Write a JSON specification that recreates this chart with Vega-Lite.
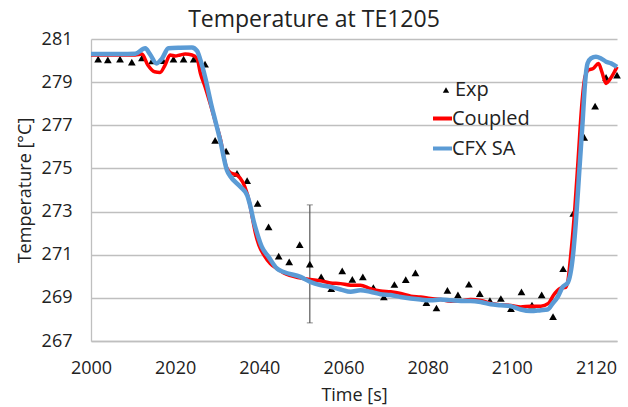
{
  "$schema": "https://vega.github.io/schema/vega-lite/v6.json",
  "width": 526,
  "height": 302,
  "autosize": {"type": "none"},
  "padding": {"left": 91, "top": 39, "right": 11, "bottom": 66},
  "background": "white",
  "title": {"text": "Temperature at TE1205", "anchor": "middle", "frame": "group", "dx": -40, "dy": 24, "baseline": "alphabetic", "offset": 4, "fontSize": 23, "font": "Open Sans", "fontWeight": "normal", "color": "#222222"},
  "config": {
    "view": {"stroke": null},
    "axis": {"labelFont": "Open Sans", "labelFontSize": 18, "labelColor": "#222222", "titleFont": "Open Sans", "titleFontSize": 18, "titleFontWeight": "normal", "titleColor": "#222222", "ticks": false, "domainColor": "#bfbfbf", "domainWidth": 1.3, "gridColor": "#bfbfbf", "gridWidth": 1.3, "labelFlush": false, "labelOverlap": false, "labelBound": false},
    "legend": {"title": null, "orient": "none", "padding": 0, "rowPadding": 8, "labelFontSize": 20, "labelFont": "Open Sans", "labelColor": "#222222", "labelLimit": 300}
  },
  "datasets": {
    "exp": [
      {"t": 2001.7, "T": 280.07}, {"t": 2004.0, "T": 280.03}, {"t": 2006.9, "T": 280.07}, {"t": 2009.7, "T": 279.93},
      {"t": 2012.1, "T": 280.12}, {"t": 2014.5, "T": 279.98}, {"t": 2017.1, "T": 280.0}, {"t": 2019.6, "T": 280.07},
      {"t": 2022.0, "T": 280.07}, {"t": 2024.4, "T": 280.07}, {"t": 2027.1, "T": 279.84}, {"t": 2029.5, "T": 276.3},
      {"t": 2032.1, "T": 275.8}, {"t": 2034.7, "T": 274.77}, {"t": 2037.1, "T": 274.43}, {"t": 2039.6, "T": 273.38},
      {"t": 2042.2, "T": 272.29}, {"t": 2044.6, "T": 270.93}, {"t": 2047.1, "T": 270.67}, {"t": 2049.6, "T": 271.47},
      {"t": 2052.0, "T": 270.56}, {"t": 2054.7, "T": 269.97}, {"t": 2057.1, "T": 269.43}, {"t": 2059.7, "T": 270.25},
      {"t": 2062.1, "T": 269.86}, {"t": 2064.6, "T": 269.97}, {"t": 2067.1, "T": 269.48}, {"t": 2069.6, "T": 269.04},
      {"t": 2072.1, "T": 269.62}, {"t": 2074.8, "T": 269.85}, {"t": 2077.1, "T": 270.16}, {"t": 2079.7, "T": 268.78},
      {"t": 2082.1, "T": 268.53}, {"t": 2084.7, "T": 269.35}, {"t": 2087.2, "T": 269.14}, {"t": 2089.8, "T": 269.63},
      {"t": 2092.4, "T": 269.2}, {"t": 2094.8, "T": 268.87}, {"t": 2097.4, "T": 268.97}, {"t": 2099.8, "T": 268.5},
      {"t": 2102.3, "T": 269.28}, {"t": 2104.8, "T": 268.66}, {"t": 2107.1, "T": 269.14}, {"t": 2109.8, "T": 268.13},
      {"t": 2112.2, "T": 270.35}, {"t": 2114.6, "T": 272.91}, {"t": 2117.2, "T": 276.44}, {"t": 2119.8, "T": 277.89},
      {"t": 2122.4, "T": 279.22}, {"t": 2125.0, "T": 279.33}
    ],
    "err": [{"t": 2052.0, "lo": 267.84, "hi": 273.31}],
    "coupled": [
      {"t": 2000.0, "T": 280.26}, {"t": 2010.5, "T": 280.26}, {"t": 2012.1, "T": 280.3}, {"t": 2013.5, "T": 279.79},
      {"t": 2015.1, "T": 279.48}, {"t": 2016.4, "T": 279.45}, {"t": 2017.6, "T": 279.79}, {"t": 2018.8, "T": 280.26},
      {"t": 2020.0, "T": 280.21}, {"t": 2021.2, "T": 280.26}, {"t": 2022.4, "T": 280.3}, {"t": 2024.0, "T": 280.26},
      {"t": 2025.2, "T": 280.1}, {"t": 2026.0, "T": 279.41}, {"t": 2027.1, "T": 278.79}, {"t": 2028.3, "T": 278.02},
      {"t": 2029.5, "T": 277.2}, {"t": 2030.7, "T": 276.4}, {"t": 2032.1, "T": 275.1}, {"t": 2033.1, "T": 274.8},
      {"t": 2034.7, "T": 274.69}, {"t": 2037.1, "T": 273.84}, {"t": 2037.7, "T": 273.38}, {"t": 2038.3, "T": 272.76},
      {"t": 2039.1, "T": 271.98}, {"t": 2039.9, "T": 271.44}, {"t": 2041.1, "T": 270.98}, {"t": 2042.6, "T": 270.59},
      {"t": 2044.2, "T": 270.36}, {"t": 2045.8, "T": 270.15}, {"t": 2049.8, "T": 269.92}, {"t": 2052.1, "T": 269.85},
      {"t": 2054.5, "T": 269.79}, {"t": 2056.9, "T": 269.69}, {"t": 2059.3, "T": 269.66}, {"t": 2061.7, "T": 269.59},
      {"t": 2064.0, "T": 269.59}, {"t": 2066.4, "T": 269.43}, {"t": 2068.8, "T": 269.32}, {"t": 2071.2, "T": 269.28},
      {"t": 2073.6, "T": 269.2}, {"t": 2076.0, "T": 269.08}, {"t": 2078.3, "T": 269.04}, {"t": 2080.7, "T": 268.97},
      {"t": 2083.1, "T": 268.92}, {"t": 2085.5, "T": 268.84}, {"t": 2087.9, "T": 268.86}, {"t": 2090.2, "T": 268.92},
      {"t": 2092.6, "T": 268.88}, {"t": 2095.0, "T": 268.74}, {"t": 2097.4, "T": 268.68}, {"t": 2099.8, "T": 268.65},
      {"t": 2102.1, "T": 268.58}, {"t": 2104.5, "T": 268.61}, {"t": 2106.9, "T": 268.61}, {"t": 2108.7, "T": 268.74},
      {"t": 2109.9, "T": 269.12}, {"t": 2111.4, "T": 269.43}, {"t": 2112.9, "T": 269.5}, {"t": 2114.2, "T": 271.36},
      {"t": 2115.0, "T": 273.22}, {"t": 2115.8, "T": 275.54}, {"t": 2116.6, "T": 277.86}, {"t": 2117.4, "T": 279.25},
      {"t": 2118.2, "T": 279.56}, {"t": 2119.4, "T": 279.64}, {"t": 2120.6, "T": 279.87}, {"t": 2121.4, "T": 279.48},
      {"t": 2122.4, "T": 278.94}, {"t": 2123.2, "T": 279.1}, {"t": 2124.4, "T": 279.48}, {"t": 2125.0, "T": 279.71}
    ],
    "cfx": [
      {"t": 2000.0, "T": 280.3}, {"t": 2006.9, "T": 280.3}, {"t": 2010.5, "T": 280.32}, {"t": 2012.9, "T": 280.57},
      {"t": 2014.0, "T": 280.3}, {"t": 2015.6, "T": 279.87}, {"t": 2016.9, "T": 280.1}, {"t": 2018.4, "T": 280.57},
      {"t": 2021.2, "T": 280.6}, {"t": 2024.0, "T": 280.61}, {"t": 2025.2, "T": 280.45}, {"t": 2026.0, "T": 280.03},
      {"t": 2027.1, "T": 279.25}, {"t": 2028.7, "T": 277.86}, {"t": 2029.5, "T": 277.24}, {"t": 2030.7, "T": 276.31},
      {"t": 2032.3, "T": 274.92}, {"t": 2033.1, "T": 274.64}, {"t": 2035.5, "T": 274.15}, {"t": 2037.1, "T": 273.76},
      {"t": 2037.9, "T": 273.22}, {"t": 2038.6, "T": 272.6}, {"t": 2039.5, "T": 271.98}, {"t": 2040.6, "T": 271.36},
      {"t": 2042.2, "T": 270.9}, {"t": 2044.2, "T": 270.36}, {"t": 2045.8, "T": 270.2}, {"t": 2049.8, "T": 269.97},
      {"t": 2052.1, "T": 269.74}, {"t": 2054.5, "T": 269.59}, {"t": 2056.9, "T": 269.51}, {"t": 2059.3, "T": 269.39},
      {"t": 2061.7, "T": 269.28}, {"t": 2064.0, "T": 269.35}, {"t": 2066.4, "T": 269.28}, {"t": 2068.8, "T": 269.17},
      {"t": 2071.2, "T": 269.13}, {"t": 2073.6, "T": 269.04}, {"t": 2076.0, "T": 268.97}, {"t": 2078.3, "T": 268.92},
      {"t": 2080.7, "T": 268.89}, {"t": 2083.1, "T": 268.92}, {"t": 2085.5, "T": 268.89}, {"t": 2087.9, "T": 268.86},
      {"t": 2090.2, "T": 268.86}, {"t": 2092.6, "T": 268.81}, {"t": 2095.0, "T": 268.7}, {"t": 2097.4, "T": 268.66},
      {"t": 2099.8, "T": 268.61}, {"t": 2102.1, "T": 268.46}, {"t": 2104.5, "T": 268.39}, {"t": 2106.9, "T": 268.43},
      {"t": 2108.5, "T": 268.46}, {"t": 2109.7, "T": 268.74}, {"t": 2110.9, "T": 269.04}, {"t": 2112.1, "T": 269.51},
      {"t": 2113.3, "T": 269.7}, {"t": 2114.5, "T": 270.9}, {"t": 2115.2, "T": 272.45}, {"t": 2116.0, "T": 274.77},
      {"t": 2116.8, "T": 277.09}, {"t": 2117.4, "T": 278.94}, {"t": 2118.0, "T": 279.87}, {"t": 2118.8, "T": 280.1},
      {"t": 2120.0, "T": 280.18}, {"t": 2121.2, "T": 280.1}, {"t": 2122.4, "T": 279.95}, {"t": 2123.6, "T": 279.87},
      {"t": 2125.0, "T": 279.71}
    ]
  },
  "layer": [
    {
      "data": {"name": "err"},
      "mark": {"type": "errorbar", "ticks": {"size": 6, "color": "#595959", "strokeWidth": 1.2}, "rule": {"color": "#595959", "strokeWidth": 1.2}},
      "encoding": {
        "x": {"field": "t", "type": "quantitative", "title": "Time [s]",
          "scale": {"domain": [2000, 2125], "nice": false, "zero": false},
          "axis": {"values": [2000, 2020, 2040, 2060, 2080, 2100, 2120], "grid": false, "format": "d", "labelPadding": 18, "titleY": 54, "titleBaseline": "middle"}},
        "y": {"field": "lo", "type": "quantitative", "title": "Temperature [°C]",
          "scale": {"domain": [267, 281], "nice": false, "zero": false},
          "axis": {"values": [267, 269, 271, 273, 275, 277, 279, 281], "grid": true, "labelPadding": 19, "titleX": -66, "titleY": 151, "titleBaseline": "middle"}},
        "y2": {"field": "hi"}
      }
    },
    {
      "data": {"name": "exp"},
      "mark": {"type": "point", "shape": "triangle-up", "filled": true, "size": 60, "opacity": 1},
      "encoding": {
        "x": {"field": "t", "type": "quantitative", "title": "Time [s]"},
        "y": {"field": "T", "type": "quantitative", "title": "Temperature [°C]"},
        "fill": {"datum": "Exp", "scale": {"domain": ["Exp"], "range": ["#000000"]},
          "legend": {"legendX": 345, "legendY": 41, "symbolType": "triangle-up", "symbolSize": 40, "labelOffset": -1, "symbolStrokeWidth": 0}}
      }
    },
    {
      "data": {"name": "coupled"},
      "mark": {"type": "line", "strokeWidth": 3.5, "interpolate": "monotone"},
      "encoding": {
        "x": {"field": "t", "type": "quantitative", "title": "Time [s]"},
        "y": {"field": "T", "type": "quantitative", "title": "Temperature [°C]"},
        "stroke": {"datum": "Coupled", "scale": {"domain": ["Coupled", "CFX SA"], "range": ["#ff0000", "#5b9bd5"]},
          "legend": {"legendX": 340, "legendY": 68, "symbolType": "stroke", "symbolSize": 361, "symbolStrokeWidth": 4, "labelOffset": -2}}
      }
    },
    {
      "data": {"name": "cfx"},
      "mark": {"type": "line", "strokeWidth": 4.5, "interpolate": "monotone"},
      "encoding": {
        "x": {"field": "t", "type": "quantitative", "title": "Time [s]"},
        "y": {"field": "T", "type": "quantitative", "title": "Temperature [°C]"},
        "stroke": {"datum": "CFX SA"}
      }
    }
  ]
}
